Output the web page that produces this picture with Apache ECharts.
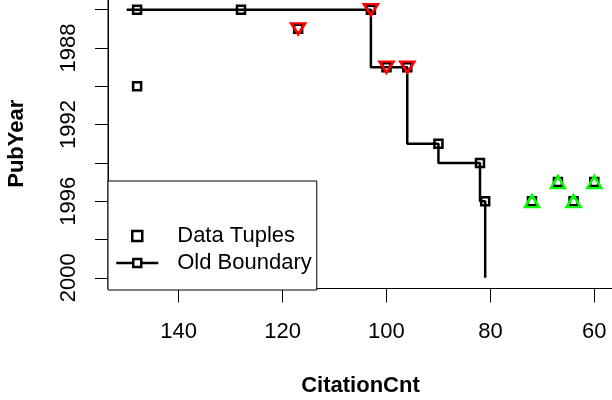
<!DOCTYPE html>
<html>
<head>
    <meta charset="utf-8">
    <title>ECharts</title>
    <script src="https://cdn.jsdelivr.net/npm/echarts@6/dist/echarts.min.js"></script>
    <style>
        body { margin: 0; background: #fff; }
        #main { width: 612px; height: 400px; }
    </style>
</head>
<body>
<div id="main"></div>
<script type="text/javascript">
    // all data tuples (citation count, publication year)
    var tupleCnt  = [148, 128, 103, 117, 148, 100, 96, 90, 82, 81, 72, 67, 64, 60];
    var tupleYear = [1986, 1986, 1986, 1987, 1990, 1989, 1989, 1993, 1994, 1996, 1996, 1995, 1996, 1995];
    // highlighted tuples
    var redCnt    = [117, 103, 100, 96];
    var redYear   = [1987, 1986, 1989, 1989];
    var greenCnt  = [72, 67, 64, 60];
    var greenYear = [1996, 1995, 1996, 1995];
    // old boundary (step line corners)
    var boundCnt  = [150, 103, 103, 96, 96, 90, 90, 82, 82, 81, 81];
    var boundYear = [1986, 1986, 1989, 1989, 1993, 1993, 1994, 1994, 1996, 1996, 2000];
    // ticks
    var xTicks = [60, 80, 100, 120, 140];
    var yTicks = [1986, 1988, 1990, 1992, 1994, 1996, 1998, 2000];
    var yLabels = [1988, 1992, 1996, 2000];

    function pairs(xs, ys) {
        var out = [];
        for (var i = 0; i < xs.length; i++) out.push([xs[i], ys[i]]);
        return out;
    }

    var font = 'Liberation Sans, Arial, Helvetica, sans-serif';
    var fs = 22;
    var chart = echarts.init(document.getElementById('main'));
    var option = {
        backgroundColor: '#fff',
        animation: false,
        textStyle: { fontFamily: font },
        grid: {
            left: 108, top: -1, width: 505, height: 289.5,
            outerBoundsMode: 'none',
            show: true, borderColor: '#000', borderWidth: 1
        },
        xAxis: {
            type: 'value',
            inverse: true,
            min: 56.4, max: 153.6,
            name: 'CitationCnt',
            nameLocation: 'middle',
            nameGap: 86,
            nameTextStyle: { fontSize: fs, fontWeight: 'bold', color: '#000', fontFamily: font },
            axisLine: { show: true, onZero: false, lineStyle: { color: '#000', width: 1 } },
            axisTick: { show: true, length: 14, customValues: xTicks, lineStyle: { color: '#000', width: 1 } },
            axisLabel: { customValues: xTicks, margin: 32, fontSize: fs, color: '#000', fontFamily: font },
            splitLine: { show: false }
        },
        yAxis: {
            type: 'value',
            inverse: true,
            min: 1985.44, max: 2000.56,
            name: 'PubYear',
            nameLocation: 'middle',
            nameGap: 80,
            nameRotate: 90,
            nameTextStyle: { fontSize: fs, fontWeight: 'bold', color: '#000', fontFamily: font },
            axisLine: { show: true, onZero: false, lineStyle: { color: '#000', width: 1 } },
            axisTick: { show: true, length: 13, customValues: yTicks, lineStyle: { color: '#000', width: 1 } },
            axisLabel: {
                customValues: yLabels, rotate: 90, margin: 28, fontSize: fs, color: '#000', fontFamily: font,
                formatter: function (v) { return String(v); }
            },
            splitLine: { show: false }
        },
        legend: {
            orient: 'vertical',
            left: 108, top: 181,
            padding: [44, 5, 16, 7],
            itemWidth: 42, itemHeight: 10, itemGap: 5,
            borderColor: '#000', borderWidth: 1,
            backgroundColor: '#fff',
            textStyle: { fontSize: fs, color: '#000', lineHeight: 20, padding: [0, 0, 0, 14], fontFamily: font },
            data: [
                { name: 'Data Tuples', icon: 'path://M0,0L10,0L10,10L0,10Z',
                  itemStyle: { color: '#fff', borderColor: '#000', borderWidth: 2.5, opacity: 1 } },
                { name: 'Old Boundary',
                  itemStyle: { color: '#fff', borderColor: '#000', borderWidth: 2.5, opacity: 1 },
                  lineStyle: { color: '#000', width: 2.5 } }
            ]
        },
        series: [
            {
                name: 'Data Tuples',
                type: 'scatter',
                data: pairs(tupleCnt, tupleYear),
                symbol: 'rect',
                symbolSize: 8,
                itemStyle: { color: 'rgba(0,0,0,0)', borderColor: '#000', borderWidth: 2.5, opacity: 1 },
                z: 2
            },
            {
                name: 'Old Boundary',
                type: 'line',
                data: pairs(boundCnt, boundYear),
                symbol: 'rect',
                showSymbol: false,
                lineStyle: { color: '#000', width: 2.5 },
                itemStyle: { color: '#000' },
                z: 3
            },
            {
                name: 'removed',
                type: 'scatter',
                data: pairs(redCnt, redYear),
                symbol: 'triangle',
                symbolRotate: 180,
                symbolSize: [14, 11],
                itemStyle: { color: 'rgba(0,0,0,0)', borderColor: '#ff0000', borderWidth: 2.5, opacity: 1 },
                z: 4
            },
            {
                name: 'added',
                type: 'scatter',
                data: pairs(greenCnt, greenYear),
                symbol: 'triangle',
                symbolSize: [14, 12],
                itemStyle: { color: 'rgba(0,0,0,0)', borderColor: '#00ff00', borderWidth: 2.5, opacity: 1 },
                z: 4
            }
        ]
    };
    chart.setOption(option);
</script>
</body>
</html>
